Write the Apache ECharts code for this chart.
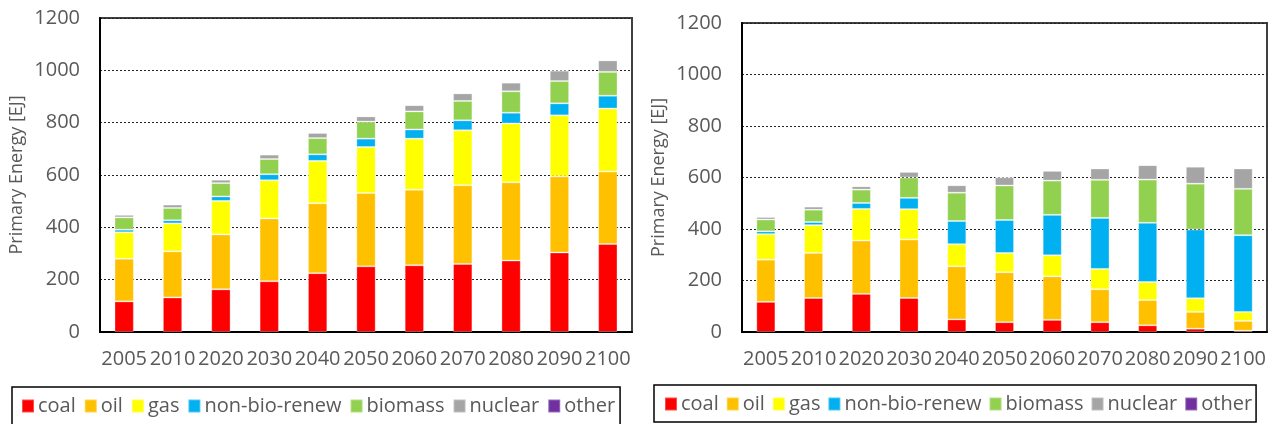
<!DOCTYPE html>
<html>
<head>
<meta charset="utf-8">
<script src="https://cdn.jsdelivr.net/npm/echarts@6/dist/echarts.min.js"></script>
<style>
  html, body { margin: 0; padding: 0; background: #fff; }
  #chart { width: 1272px; height: 424px; }
</style>
</head>
<body>
<div id="chart"></div>
<script>
// Primary energy supply by source, EJ per year
const years = ['2005', '2010', '2020', '2030', '2040', '2050', '2060', '2070', '2080', '2090', '2100'];
const fuels = ['coal', 'oil', 'gas', 'non-bio-renew', 'biomass', 'nuclear', 'other'];
const yTicks = [0, 200, 400, 600, 800, 1000, 1200];

// Left panel: baseline scenario
const baseCoal  = [117, 132, 163, 194, 225, 251, 255, 260, 273, 304, 336];
const baseOil   = [163, 176, 210, 240, 267, 280, 289, 301, 299, 291, 277];
const baseGas   = [101, 107, 128, 146, 162, 176, 195, 210, 225, 233, 241];
const baseRenew = [10, 12, 17, 23, 25, 32, 35, 38, 41, 46, 49];
const baseBio   = [47, 47, 51, 58, 62, 65, 69, 74, 82, 85, 91];
const baseNuc   = [10, 13, 13, 17, 20, 20, 24, 29, 33, 40, 44];
const baseOther = [0, 0, 0, 0, 0, 0, 0, 0, 0, 0, 0];

// Right panel: mitigation scenario
const mitCoal  = [117, 132, 148, 132, 49, 38, 47, 38, 26, 13, 5];
const mitOil   = [164, 175, 207, 227, 206, 194, 169, 128, 98, 65, 38];
const mitGas   = [99, 108, 123, 118, 86, 75, 82, 79, 70, 53, 35];
const mitRenew = [11, 12, 23, 44, 90, 128, 157, 198, 230, 267, 298];
const mitBio   = [46, 48, 52, 79, 110, 134, 133, 148, 168, 178, 180];
const mitNuc   = [10, 12, 13, 22, 29, 32, 38, 44, 56, 66, 79];
const mitOther = [0, 0, 0, 0, 0, 0, 0, 0, 0, 0, 0];

const baseSeries = [baseCoal, baseOil, baseGas, baseRenew, baseBio, baseNuc, baseOther];
const mitSeries  = [mitCoal, mitOil, mitGas, mitRenew, mitBio, mitNuc, mitOther];

const palette = ['#FF0000', '#FFC000', '#FFFF00', '#00B0F0', '#92D050', '#A5A5A5', '#7030A0'];
const FONT = '"Open Sans", "Noto Sans", sans-serif';
const TEXT = '#595959';

function xAxisFor(gridIndex) {
  return {
    type: 'category', gridIndex, data: years,
    axisLine: { show: true, lineStyle: { color: '#000', width: 2 } },
    axisTick: { show: false },
    axisLabel: { color: TEXT, fontFamily: FONT, fontSize: 20, margin: 17, interval: 0 }
  };
}
function yAxisFor(gridIndex) {
  return {
    type: 'value', gridIndex, min: yTicks[0], max: yTicks[yTicks.length - 1],
    interval: yTicks[1] - yTicks[0],
    name: 'Primary Energy [EJ]', nameLocation: 'middle', nameGap: 74,
    nameTextStyle: { color: TEXT, fontFamily: FONT, fontSize: 18 },
    axisLine: { show: true, lineStyle: { color: '#000', width: 2 } },
    axisTick: { show: false },
    axisLabel: { color: TEXT, fontFamily: FONT, fontSize: 20, margin: 20, formatter: v => String(v) },
    splitLine: { show: true, lineStyle: { color: '#222', width: 1, type: [2, 2] } }
  };
}
function barsFor(sets, axisIndex, stackName) {
  return sets.map((vals, i) => ({
    name: fuels[i], type: 'bar', stack: stackName,
    xAxisIndex: axisIndex, yAxisIndex: axisIndex,
    barWidth: '40%', data: vals,
    itemStyle: { color: palette[i], borderColor: 'rgba(255,255,255,0.3)', borderWidth: 1 },
    emphasis: { disabled: true }
  }));
}
function legendAt(pos) {
  return Object.assign({
    data: fuels, orient: 'horizontal', icon: 'rect',
    itemWidth: 12, itemHeight: 13, itemGap: 7,
    borderColor: '#000', borderWidth: 1.5,
    textStyle: { color: TEXT, fontFamily: FONT, fontSize: 20, padding: [0, 0, 0, -1] }
  }, pos);
}

const chart = echarts.init(document.getElementById('chart'), null, { renderer: 'canvas' });
chart.setOption({
  animation: false,
  color: palette,
  grid: [
    { left: 100, top: 18, right: 640, bottom: 92, show: true, borderColor: '#404040', borderWidth: 2, backgroundColor: 'transparent' },
    { left: 742, top: 23, right: 5, bottom: 92, show: true, borderColor: '#404040', borderWidth: 2, backgroundColor: 'transparent' }
  ],
  xAxis: [xAxisFor(0), xAxisFor(1)],
  yAxis: [yAxisFor(0), yAxisFor(1)],
  legend: [
    legendAt({ left: 12, top: 387, itemGap: 8, padding: [9, 5, 20, 9] }),
    legendAt({ left: 654, top: 385, padding: [9, 4, 8, 10] })
  ],
  series: barsFor(baseSeries, 0, 'base').concat(barsFor(mitSeries, 1, 'mit'))
});
</script>
</body>
</html>
